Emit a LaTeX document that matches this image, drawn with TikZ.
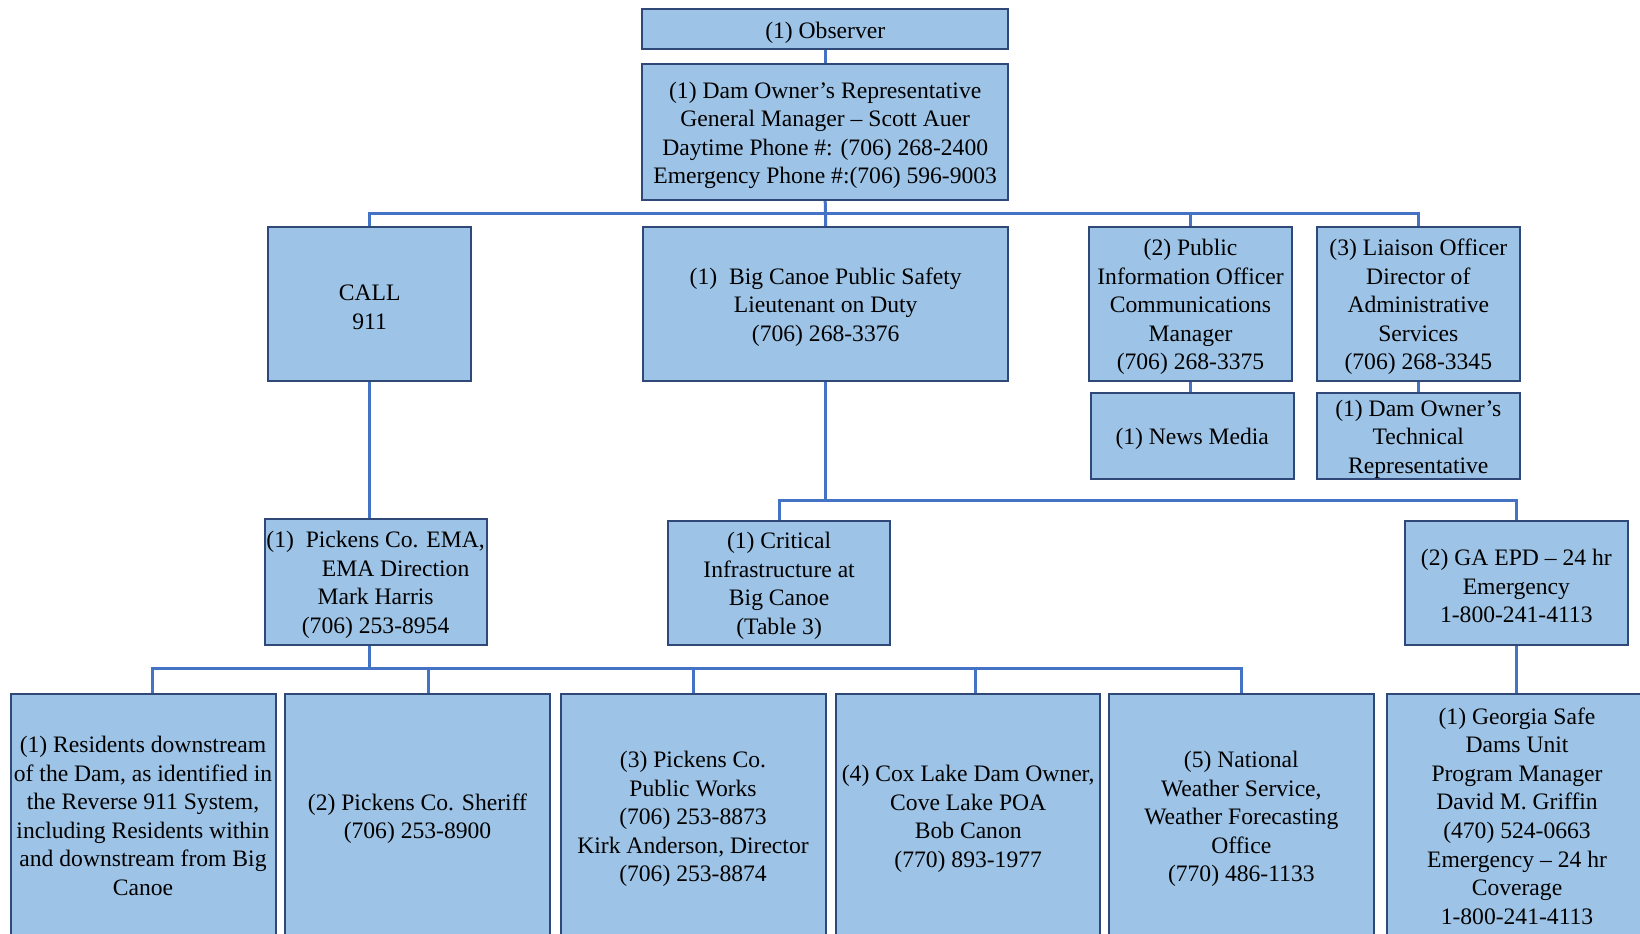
\documentclass[tikz,border=0pt]{standalone}
\usepackage{fontspec}
\setmainfont{Liberation Serif}
\usetikzlibrary{backgrounds}
\newdimen\px \px=0.75pt
\newcommand\fs{\rule{0pt}{16.8pt}}
\definecolor{boxfill}{RGB}{157,195,230}
\definecolor{boxline}{RGB}{47,72,120}
\definecolor{conncol}{RGB}{68,114,196}
\begin{document}
\begin{tikzpicture}[x=0.75pt,y=-0.75pt,
  box/.style={draw=boxline, fill=boxfill, line width=1.5pt, inner sep=0pt, align=center,
    font=\fontsize{17.7pt}{21.4pt}\selectfont},
  conn/.style={draw=conncol, line width=2.25pt}]
\useasboundingbox (0,0) rectangle (1640,934);
\clip (0,0) rectangle (1640,934);
% top
\node[box, minimum width=366.5\px, minimum height=40\px] (obs) at (825.2,29.5) {\fs(1) Observer};
\node[box, minimum width=366.5\px, minimum height=135.5\px] (own) at (825.2,132.2)
  {\fs(1) Dam Owner’s Representative\\General Manager -- Scott Auer\\Daytime Phone \#: (706) 268-2400\\Emergency Phone \#:(706) 596-9003};
% second row
\node[box, minimum width=202.5\px, minimum height=154\px] (call) at (369.7,304) {\fs CALL\\911};
\node[box, minimum width=365.5\px, minimum height=154\px] (bcp) at (825.7,304)
  {\fs(1)\ \ Big Canoe Public Safety\\Lieutenant on Duty\\(706) 268-3376};
\node[box, minimum width=203\px, minimum height=154\px] (pio) at (1190.5,304)
  {\fs(2) Public\\Information Officer\\Communications\\Manager\\(706) 268-3375};
\node[box, minimum width=202.6\px, minimum height=154\px] (lia) at (1418.3,304)
  {\fs(3) Liaison Officer\\Director of\\Administrative\\Services\\(706) 268-3345};
\node[box, minimum width=203\px, minimum height=85.4\px] (news) at (1192.2,436) {\fs(1) News Media};
\node[box, minimum width=202.6\px, minimum height=85.4\px] (tech) at (1418.3,436)
  {\fs(1) Dam Owner’s\\Technical\\Representative};
% third row
\node[box, minimum width=222\px, minimum height=125.4\px] (ema) at (375.6,582)
  {\fs(1)\ \ Pickens Co. EMA,\\\hspace*{30pt}EMA Direction\\Mark Harris\\(706) 253-8954};
\node[box, minimum width=222\px, minimum height=124\px] (cri) at (779.1,582.7)
  {\fs(1) Critical\\Infrastructure at\\Big Canoe\\(Table 3)};
\node[box, minimum width=222.7\px, minimum height=124.3\px] (epd) at (1516.3,583.2)
  {\fs(2) GA EPD -- 24 hr\\Emergency\\1-800-241-4113};
% bottom row
\node[box, minimum width=265\px, minimum height=244\px] (b1) at (143,816)
  {(1) Residents downstream\\of the Dam, as identified in\\the Reverse 911 System,\\including Residents within\\and downstream from Big\\Canoe};
\node[box, minimum width=265\px, minimum height=244\px] (b2) at (417.5,816)
  {\fs(2) Pickens Co. Sheriff\\(706) 253-8900};
\node[box, minimum width=265\px, minimum height=244\px] (b3) at (693,816)
  {\fs(3) Pickens Co.\\Public Works\\(706) 253-8873\\Kirk Anderson, Director\\(706) 253-8874};
\node[box, minimum width=264.4\px, minimum height=244\px] (b4) at (968.2,816)
  {\fs(4) Cox Lake Dam Owner,\\Cove Lake POA\\Bob Canon\\(770) 893-1977};
\node[box, minimum width=264.6\px, minimum height=244\px] (b5) at (1241.3,816)
  {\fs(5) National\\Weather Service,\\Weather Forecasting\\Office\\(770) 486-1133};
\node[box, minimum width=260.6\px, minimum height=244\px] (geo) at (1517,816)
  {(1) Georgia Safe\\Dams Unit\\Program Manager\\David M. Griffin\\(470) 524-0663\\Emergency -- 24 hr\\Coverage\\1-800-241-4113};
% connectors
\coordinate (tb) at (825.2,214);
\coordinate (mb) at (825.7,500);
\coordinate (lb) at (369.7,668.5);
\coordinate (t1) at (152,668.5);
\coordinate (t2) at (428,668.5);
\coordinate (t3) at (693,668.5);
\coordinate (t4) at (975,668.5);
\coordinate (t5) at (1241.3,668.5);
\begin{scope}[on background layer]
\draw[conn] (obs.south) -- (own.north);
\draw[conn] (own.south) -- (bcp.north);
\draw[conn] (call.north) |- (tb) -| (lia.north);
\draw[conn] (pio.north) -- (pio.north |- tb);
\draw[conn] (pio.south) -- (pio.south |- news.north);
\draw[conn] (lia.south) -- (tech.north);
\draw[conn] (bcp.south) -- (mb);
\draw[conn] (cri.north) |- (mb) -| (epd.north);
\draw[conn] (epd.south) -- (epd.south |- geo.north);
\draw[conn] (call.south) -- (call.south |- ema.north);
\draw[conn] (call.south |- ema.south) -- (lb);
\draw[conn] (t1 |- b1.north) -- (t1) -- (t5) -- (b5.north);
\draw[conn] (t2) -- (t2 |- b2.north);
\draw[conn] (t3) -- (b3.north);
\draw[conn] (t4) -- (t4 |- b4.north);
\end{scope}
\end{tikzpicture}
\end{document}
